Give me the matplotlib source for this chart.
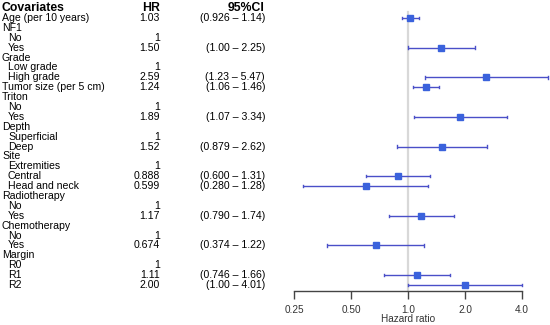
import numpy as np
import matplotlib
matplotlib.use("Agg")
import matplotlib.pyplot as plt
import matplotlib.transforms as mtransforms

plt.rcParams['font.family'] = ['Liberation Sans', 'DejaVu Sans']

# ---- data ----
labels = ["Age (per 10 years)", "NF1", "No", "Yes", "Grade", "Low grade", "High grade",
          "Tumor size (per 5 cm)", "Triton", "No", "Yes", "Depth", "Superficial", "Deep",
          "Site", "Extremities", "Central", "Head and neck", "Radiotherapy", "No", "Yes",
          "Chemotherapy", "No", "Yes", "Margin", "R0", "R1", "R2"]
indent = [0, 0, 1, 1, 0, 1, 1, 0, 0, 1, 1, 0, 1, 1, 0, 1, 1, 1, 0, 1, 1, 0, 1, 1, 0, 1, 1, 1]
hr_text = ["1.03", "", "1", "1.50", "", "1", "2.59", "1.24", "", "1", "1.89", "", "1", "1.52",
           "", "1", "0.888", "0.599", "", "1", "1.17", "", "1", "0.674", "", "1", "1.11", "2.00"]
ci_text = ["(0.926 \u2013 1.14)", "", "", "(1.00 \u2013 2.25)", "", "", "(1.23 \u2013 5.47)",
           "(1.06 \u2013 1.46)", "", "", "(1.07 \u2013 3.34)", "", "", "(0.879 \u2013 2.62)",
           "", "", "(0.600 \u2013 1.31)", "(0.280 \u2013 1.28)", "", "", "(0.790 \u2013 1.74)",
           "", "", "(0.374 \u2013 1.22)", "", "", "(0.746 \u2013 1.66)", "(1.00 \u2013 4.01)"]
est_rows = [1, 4, 7, 8, 11, 14, 17, 18, 21, 24, 27, 28]
est = [1.03, 1.50, 2.59, 1.24, 1.89, 1.52, 0.888, 0.599, 1.17, 0.674, 1.11, 2.00]
lo = [0.926, 1.00, 1.23, 1.06, 1.07, 0.879, 0.600, 0.280, 0.790, 0.374, 0.746, 1.00]
hi = [1.14, 2.25, 5.47, 1.46, 3.34, 2.62, 1.31, 1.28, 1.74, 1.22, 1.66, 4.01]
xticks = [0.25, 0.5, 1.0, 2.0, 4.0]
xtick_labels = ["0.25", "0.50", "1.0", "2.0", "4.0"]

W, H = 550, 325
fig = plt.figure(figsize=(W / 100, H / 100), dpi=100)
ax = fig.add_axes([280 / W, 1 - 291 / H, 270 / W, 291 / H])
ax.set_xscale('log', base=2)
ax.set_xlim(2 ** (-2 - 14 / 57), 2 ** (2 + 28 / 57))
ax.set_ylim(28.61, -0.82)

line_col = '#4a4fc8'
mark_col = '#3a62dc'

ax.axvline(1.0, ymin=0, ymax=(28.61 - 0.4) / (28.61 + 0.82), color='#d8d8d8', lw=1.6, zorder=0)

for r, e, l, h in zip(est_rows, est, lo, hi):
    ax.plot([l, h], [r, r], color=line_col, lw=1.0, solid_capstyle='butt', zorder=2)
    for v in (l, h):
        ax.plot([v, v], [r - 0.12, r + 0.12], color=line_col, lw=1.0, zorder=2)
    ax.plot([e], [r], marker='s', ms=4.7, color=mark_col, mec=mark_col, zorder=3)

for s in ['top', 'right', 'left']:
    ax.spines[s].set_visible(False)
ax.spines['bottom'].set_bounds(0.25, 4.0)
ax.spines['bottom'].set_color('#444444')
ax.spines['bottom'].set_linewidth(1.0)
ax.set_yticks([])
ax.set_xticks(xticks)
ax.set_xticklabels(xtick_labels)
ax.xaxis.set_minor_locator(matplotlib.ticker.NullLocator())
ax.tick_params(axis='x', direction='out', length=6, width=1.0, color='#444444',
               labelsize=7.2, labelcolor='#333333', pad=4)
ax.set_xlabel("Hazard ratio", fontsize=7.2, color='#333333')
ax.xaxis.set_label_coords((408 - 280) / 270, -(318.5 - 291) / 291)
ax.xaxis.label.set_va('center')
ax.patch.set_visible(False)

# text columns
trans = mtransforms.blended_transform_factory(fig.transFigure, ax.transData)
fs = 7.6
hfs = 8.8
ax.text(2 / W, 0, "Covariates", transform=trans, ha='left', va='center', fontsize=hfs,
        fontweight='bold', clip_on=False)
ax.text(160 / W, 0, "HR", transform=trans, ha='right', va='center', fontsize=hfs,
        fontweight='bold', clip_on=False)
ax.text(265 / W, 0, "95%CI", transform=trans, ha='right', va='center', fontsize=hfs,
        fontweight='bold', clip_on=False)
for i, (lab, ind, ht, ct) in enumerate(zip(labels, indent, hr_text, ci_text)):
    row = i + 1
    ax.text((2 + 6 * ind) / W, row, lab, transform=trans, ha='left', va='center', fontsize=fs,
            clip_on=False)
    if ht:
        ax.text(160 / W, row, ht, transform=trans, ha='right', va='center', fontsize=fs,
                clip_on=False)
    if ct:
        ax.text(265 / W, row, ct, transform=trans, ha='right', va='center', fontsize=fs,
                clip_on=False)

fig.savefig("out.png", dpi=100)
